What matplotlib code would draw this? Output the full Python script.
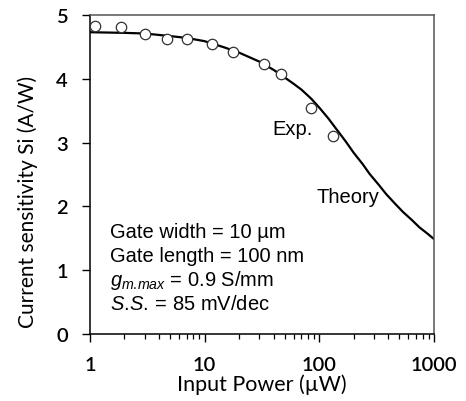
import matplotlib
matplotlib.use("Agg")
import matplotlib.pyplot as plt
from matplotlib.ticker import LogLocator, NullFormatter, FixedLocator

# measured points (Exp.)
exp_power = [1.1, 1.85, 3.0, 4.7, 7.0, 11.6, 17.8, 33, 46, 84, 131]
exp_si = [4.83, 4.81, 4.70, 4.63, 4.62, 4.545, 4.42, 4.23, 4.07, 3.55, 3.11]

# theory curve
th_power = [1, 2, 3, 5, 7, 10, 15, 20, 30, 40, 50, 60, 70, 85, 100, 120, 140, 170, 200,
            240, 275, 330, 385, 460, 540, 640, 750, 870, 1000]
th_si = [4.73, 4.72, 4.71, 4.67, 4.64, 4.59, 4.49, 4.41, 4.27, 4.14, 4.02, 3.92, 3.83,
         3.69, 3.55, 3.38, 3.22, 3.02, 2.84, 2.66, 2.51, 2.34, 2.19, 2.04, 1.91, 1.79,
         1.67, 1.58, 1.49]

x_ticks = [1, 10, 100, 1000]
x_ticklabels = ["1", "10", "100", "1000"]
y_ticks = [0, 1, 2, 3, 4, 5]

notes = ["Gate width = 10 \u00b5m",
         "Gate length = 100 nm",
         r"$g_{m.\!max}$ = 0.9 S/mm",
         r"$S.\!S.\!$ = 85 mV/dec"]

plt.rcParams["mathtext.fontset"] = "custom"
plt.rcParams["mathtext.it"] = "Liberation Sans:italic"
plt.rcParams["mathtext.rm"] = "Liberation Sans"

fig = plt.figure(figsize=(4.66, 4.02), dpi=100)
ax = fig.add_axes([0.193, 0.1667, 0.738, 0.7935])

ax.plot(th_power, th_si, color="black", lw=1.6, zorder=2)
ax.plot(exp_power, exp_si, "o", ms=7.5, mfc="white", mec="#333333", mew=0.9, zorder=3)

ax.set_xscale("log")
ax.set_xlim(1, 1000)
ax.set_ylim(0, 5)
ax.xaxis.set_major_locator(FixedLocator(x_ticks))
ax.set_xticklabels(x_ticklabels)
ax.xaxis.set_minor_locator(LogLocator(base=10, subs=range(2, 10)))
ax.xaxis.set_minor_formatter(NullFormatter())
ax.set_yticks(y_ticks)

for lab in ax.get_xticklabels() + ax.get_yticklabels():
    lab.set_fontfamily("Lato")
    lab.set_fontsize(14.5)
    lab.set_fontweight("semibold")

ax.tick_params(axis="both", which="major", direction="out", length=6, width=1, pad=10)
ax.tick_params(axis="x", which="minor", direction="out", length=3.5, width=0.9)
ax.tick_params(axis="y", which="minor", left=False)

ax.set_xlabel("Input Power (\u00b5W)", fontfamily="Lato", fontsize=15.5, labelpad=0)
ax.set_ylabel("Current sensitivity Si (A/W)", fontfamily="Lato", fontsize=15)
ax.yaxis.set_label_coords(-0.15, 0.418)

for s in ["top", "right"]:
    ax.spines[s].set_color("#555555")
for s in ax.spines.values():
    s.set_linewidth(1.1)
ax.spines["left"].set_color("black")
ax.spines["bottom"].set_color("black")

ax.text(0.53, 0.627, "Exp.", transform=ax.transAxes, fontfamily="Liberation Sans",
        fontsize=14.5)
ax.text(0.659, 0.413, "Theory", transform=ax.transAxes, fontfamily="Liberation Sans",
        fontsize=14.5)

for i, t in enumerate(notes):
    ax.text(0.058, 0.305 - i * 0.076, t, transform=ax.transAxes,
            fontfamily="Liberation Sans", fontsize=14.5)

fig.savefig("out.png", dpi=100)
